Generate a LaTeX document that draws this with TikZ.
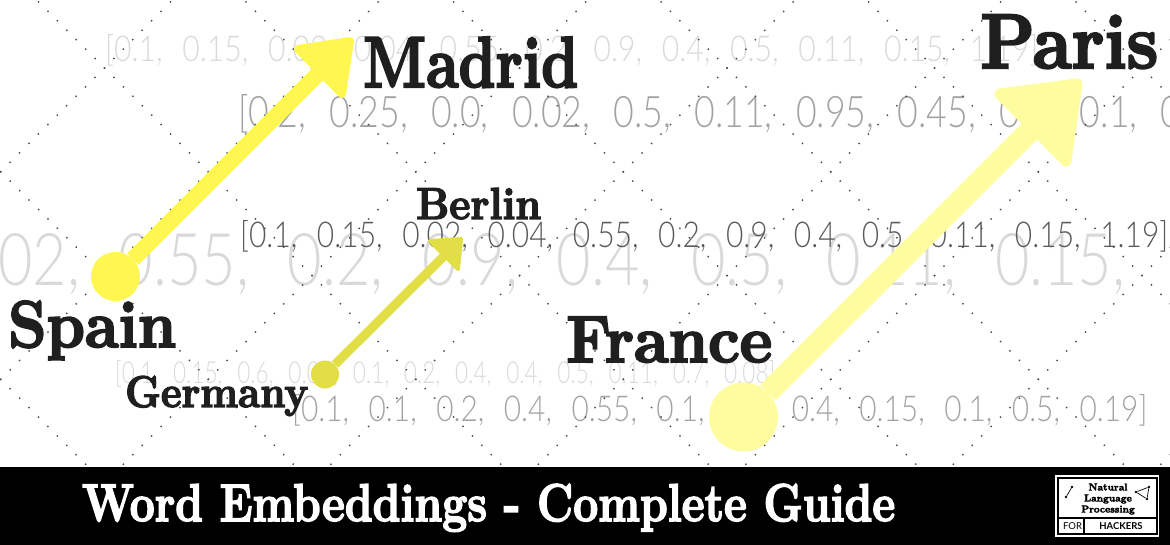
\documentclass[tikz,border=0pt]{standalone}
\usepackage{fontspec}
\usepackage{graphicx}
\usetikzlibrary{positioning}
\newfontfamily\fatfont{Latin Modern Roman}[BoldFeatures={FakeBold=3.2}]
\newfontfamily\numfont{Lato}[UprightFont=* Light, WordSpace=2.4]
\newfontfamily\logosans{Lato}
\definecolor{inkblack}{HTML}{1F1F1F}
\definecolor{spainyellow}{HTML}{FFF64F}
\definecolor{germanyyellow}{HTML}{E2DE46}
\definecolor{franceyellow}{HTML}{FFFCA0}
\definecolor{greyfaint}{HTML}{D9D9D9}
\definecolor{greymid}{HTML}{A3A3A3}
\definecolor{greydark}{HTML}{5A5A5A}
\newcommand{\fitbox}[3]{\resizebox{#1pt}{#2pt}{#3}}
\tikzset{
	numrow/.style={anchor=base west, inner sep=0pt, font=\numfont\fontsize{30}{30}\selectfont},
	word/.style={anchor=base west, inner sep=0pt, text=inkblack, font=\fatfont\bfseries\fontsize{40}{40}\selectfont},
	dotline/.style={line width=2pt, line cap=round, color=black!70, dash pattern=on 0pt off 13.339pt},
	dotnode/.style={circle, inner sep=0pt, minimum size=#1},
	logodot/.style={circle, fill=black, inner sep=0pt, minimum size=2.6pt},
}
\begin{document}
\begin{tikzpicture}[x=1pt,y=-1pt]
	\useasboundingbox (0,0) rectangle (1170,545);
	\begin{scope}
		\clip (0,0) rectangle (1170,467);
	% Vectors
		\node[numrow, text=greyfaint] (rowa) at (105,62) {\fitbox{933}{27}{[0.1, 0.15, 0.02, 0.04, 0.55, 0.2, 0.9, 0.4, 0.5, 0.11, 0.15, 1.19]}};
		\node[numrow, text=greymid] (rowb) at (238,128) {\fitbox{1105}{33}{[0.2, 0.25, 0.0, 0.02, 0.5, 0.11, 0.95, 0.45, 0.5, 0.1, 0.15, 1.19]}};
		\node[numrow, text=greyfaint] (rowc) at (-2,286) {\fitbox{1127}{52}{02, 0.55, 0.2, 0.9, 0.4, 0.5, 0.11, 0.15,}};
		\node[numrow, text=greydark] (rowd) at (240,248) {\fitbox{928}{27}{[0.1, 0.15, 0.02, 0.04, 0.55, 0.2, 0.9, 0.4, 0.5, 0.11, 0.15, 1.19]}};
		\node[numrow, text=greyfaint] (rowe) at (115,383) {\fitbox{660}{23}{[0.1, 0.15, 0.6, 0.04, 0.1, 0.2, 0.4, 0.4, 0.5, 0.11, 0.7, 0.08]}};
		\node[numrow, text=greymid] (rowf) at (292,421) {\fitbox{855}{27}{[0.1, 0.1, 0.2, 0.4, 0.55, 0.1, 0.9, 0.4, 0.15, 0.1, 0.5, 0.19]}};
	% Dotted lattice
		\foreach \m in {-2,...,5}
			\draw[dotline] ({38.5+207.5*\m},2) -- ++(462.2,462.2);
		\foreach \m in {0,...,7}
			\draw[dotline] ({170.5+207.5*\m},2) -- ++(-462.2,462.2);
	\end{scope}
	% Circles
	\node[dotnode=49pt, fill=spainyellow] (spaindot) at (115.5,276.5) {};
	\node[dotnode=28pt, fill=germanyyellow] (germanydot) at (325,374.5) {};
	\node[dotnode=69pt, fill=franceyellow] (francedot) at (743.5,417) {};
	\coordinate (madridtip) at (350,41);
	\coordinate (berlintip) at (461,239);
	\coordinate (paristip) at (1077,84);
	% Arrows
	\draw[spainyellow, line width=16pt] (spaindot) -- (324,68);
	\draw[germanyyellow, line width=9pt] (germanydot) -- (448,252);
	\draw[franceyellow, line width=22pt] (francedot) -- (1032,129);
	\draw[spainyellow, fill=spainyellow, line width=8pt, line join=round] (madridtip) -- (298,49) -- (342,94) -- cycle;
	\draw[germanyyellow, fill=germanyyellow, line width=4pt, line join=round] (berlintip) -- (430,241) -- (458,269) -- cycle;
	\draw[franceyellow, fill=franceyellow, line width=11pt, line join=round] (paristip) -- (1000,94) -- (1066,161) -- cycle;
	% Words
	\node[word] (madrid) at (363,87) {\fitbox{215}{50}{Madrid}};
	\node[word] (paris) at (980,68) {\fitbox{178}{53}{Paris}};
	\node[word] (berlin) at (416,219) {\fitbox{125}{31}{Berlin}};
	\node[word] (spain) at (8,347) {\fitbox{168}{46}{Spain}};
	\node[word] (germany) at (125,407) {\fitbox{183}{31}{Germany}};
	\node[word] (france) at (566,362) {\fitbox{206}{45}{France}};
	% Band
	\fill[black] (0,467) rectangle (1170,545);
	\node[word, text=white] (title) at (82,521) {\fitbox{813}{37}{Word Embeddings - Complete Guide}};
	% Logo
	\fill[white] (1055,475) rectangle (1159,537);
	\draw[black, line width=1.3pt] (1058,478) rectangle (1157,534);
	\draw[black, line width=1.3pt] (1058,518) -- (1157,518);
	\draw[black, line width=1.3pt] (1084,518) -- (1084,534);
	\node[align=center, inner sep=0pt, font=\fatfont\bfseries\fontsize{10}{11}\selectfont] (logotext) at (1108,499) {Natural\\Language\\Processing};
	\node[inner sep=0pt, font=\logosans\fontsize{9.5}{10}\selectfont] (logofor) at (1072.5,526) {FOR};
	\node[inner sep=0pt, font=\logosans\bfseries\fontsize{9.5}{10}\selectfont] (logohackers) at (1121,526) {HACKERS};
	\node[logodot] (lineone) at (1066,497) {};
	\node[logodot] (linetwo) at (1072,487) {};
	\draw[black, line width=.7pt] (lineone) -- (linetwo);
	\node[logodot] (trione) at (1136,492) {};
	\node[logodot] (tritwo) at (1149,487) {};
	\node[logodot] (trithree) at (1147,499) {};
	\draw[black, line width=.7pt] (trione) -- (tritwo) -- (trithree) -- (trione);
\end{tikzpicture}
\end{document}
